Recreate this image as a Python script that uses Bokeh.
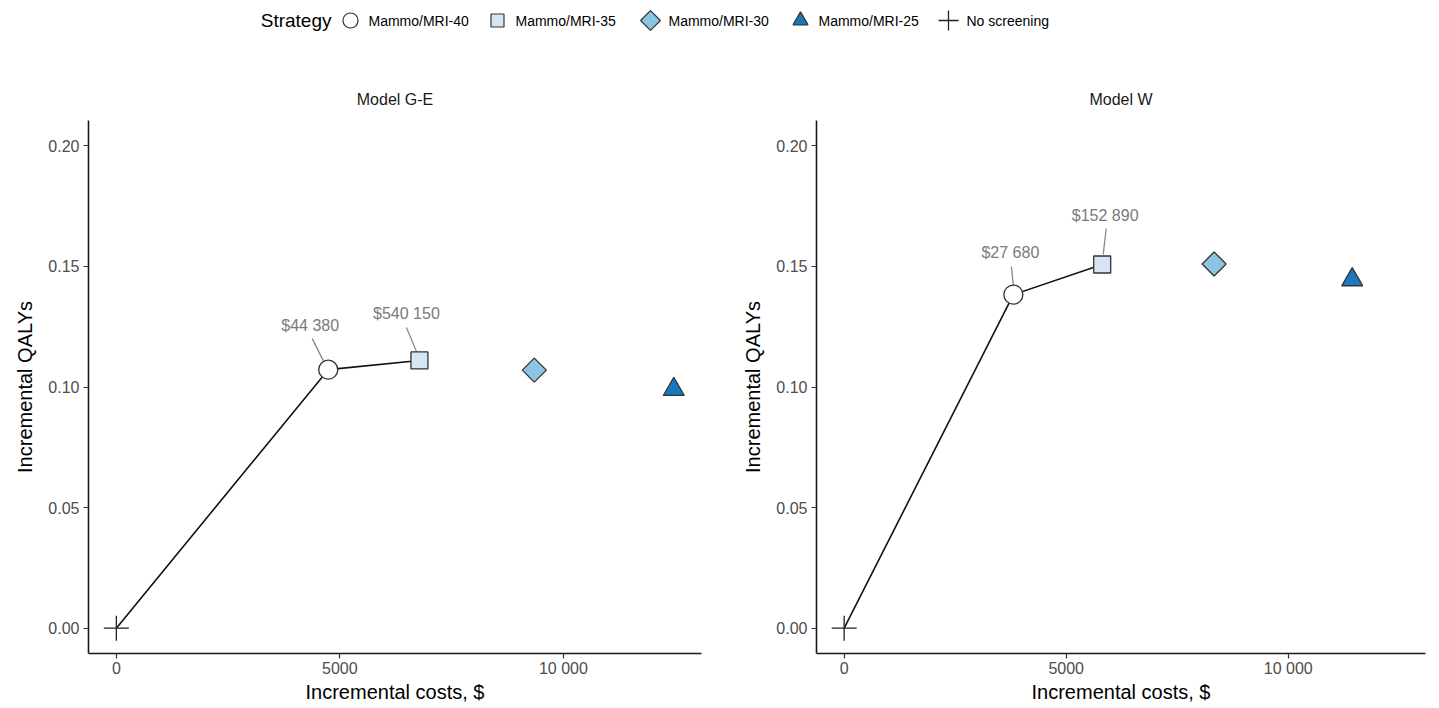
import math
from bokeh.plotting import figure
from bokeh.models import Range1d, FixedTicker, NumeralTickFormatter, Label
from bokeh.layouts import column, row
from bokeh.core.properties import value
from bokeh.embed import file_html
from bokeh.resources import INLINE

# ---------------- data ----------------
strategies = ["Mammo/MRI-40", "Mammo/MRI-35", "Mammo/MRI-30", "Mammo/MRI-25", "No screening"]

ge_cost = [4740, 6780, 9350, 12470, 0]
ge_qaly = [0.1072, 0.1110, 0.1070, 0.0990, 0.0]

w_cost = [3810, 5810, 8330, 11440, 0]
w_qaly = [0.1383, 0.1508, 0.1510, 0.1445, 0.0]

# efficient frontier (indices into the strategy list, ordered by cost)
ge_frontier = [4, 0, 1]
w_frontier = [4, 0, 1]

# ICER labels (strategy index -> text)
ge_icer_idx = [0, 1]
ge_icer_txt = ["$44 380", "$540 150"]
w_icer_idx = [0, 1]
w_icer_txt = ["$27 680", "$152 890"]

x_ticks = [0, 5000, 10000]
x_tick_labels = ["0", "5000", "10 000"]
y_ticks = [0.0, 0.05, 0.10, 0.15, 0.20]

# ---------------- style ----------------
FONT = "Liberation Sans"
markers = ["circle", "square", "square", "triangle", "cross"]
angles = [0, 0, math.pi / 4, 0, 0]
sizes = [19, 17, 17, 21, 25]
fills = ["white", "#d5e5f4", "#8cc5e4", "#1a78bd", None]
lines = ["#333333", "#333333", "#333333", "#333333", "#333333"]

leg_sizes = [15, 13, 14, 15, 20]

XR = (-623, 13090)
YR = (-0.0105, 0.2105)

# label offsets in screen pixels (dx right, dy down): label centre, leader start, leader end
ge_lab_off = [(-18, -44, -5, -9, -16, -31), (-13, -47, -3, -9, -13, -33)]
w_lab_off = [(-3, -42, 0, -9, -2, -28), (3, -49, 1, -10, 4, -36)]


def make_panel(title, cost, qaly, frontier, icer_idx, icer_txt, offs,
               left, frame_w, right):
    frame_h = 533
    p = figure(width=left + frame_w + right, height=65 + frame_h + 55,
               frame_width=frame_w, frame_height=frame_h,
               min_border_left=left, min_border_right=right,
               min_border_top=65, min_border_bottom=55,
               x_range=Range1d(*XR), y_range=Range1d(*YR),
               toolbar_location=None, output_backend="svg",
               title=title)
    p.title.align = "center"
    p.title.text_font = FONT
    p.title.text_font_size = "16px"
    p.title.text_font_style = "normal"
    p.title.text_color = "#1a1a1a"
    p.title.standoff = 25
    p.outline_line_color = None
    p.grid.visible = False
    p.background_fill_color = "white"
    p.border_fill_color = "white"

    for ax in (p.xaxis[0], p.yaxis[0]):
        ax.axis_line_color = "#1a1a1a"
        ax.axis_line_width = 1.6
        ax.major_tick_line_color = "#333333"
        ax.major_tick_line_width = 1.2
        ax.major_tick_out = 5
        ax.major_tick_in = 0
        ax.minor_tick_line_color = None
        ax.major_label_text_font = FONT
        ax.major_label_text_font_size = "16px"
        ax.major_label_text_color = "#4d4d4d"
        ax.axis_label_text_font = FONT
        ax.axis_label_text_font_size = "20px"
        ax.axis_label_text_font_style = "normal"
        ax.axis_label_text_color = "#000000"

    p.xaxis.ticker = FixedTicker(ticks=x_ticks)
    p.xaxis.major_label_overrides = {t: l for t, l in zip(x_ticks, x_tick_labels)}
    p.xaxis.axis_label = "Incremental costs, $"
    p.xaxis.major_label_standoff = 1
    p.xaxis.axis_label_standoff = 1
    p.yaxis.ticker = FixedTicker(ticks=y_ticks)
    p.yaxis.formatter = NumeralTickFormatter(format="0.00")
    p.yaxis.axis_label = "Incremental QALYs"
    p.yaxis.major_label_standoff = 4
    p.yaxis.axis_label_standoff = 9

    px = frame_w / (XR[1] - XR[0])
    py = frame_h / (YR[1] - YR[0])

    # frontier line
    p.line([cost[i] for i in frontier], [qaly[i] for i in frontier],
           line_color="#111111", line_width=1.6)

    # leader lines + labels
    for k, i in enumerate(icer_idx):
        dx, dy, sx0, sy0, sx1, sy1 = offs[k]
        p.segment(x0=[cost[i] + sx0 / px], y0=[qaly[i] - sy0 / py],
                  x1=[cost[i] + sx1 / px], y1=[qaly[i] - sy1 / py],
                  line_color="#8a8a8a", line_width=1.3)
        p.text(x=[cost[i] + dx / px], y=[qaly[i] - dy / py], text=[icer_txt[k]],
               text_font=value(FONT), text_font_size="16px", text_color="#7a7a7a",
               text_align="center", text_baseline="middle",
               background_fill_color="white", background_fill_alpha=0.6)

    # points
    for i in range(len(cost)):
        if markers[i] == "cross":
            p.scatter([cost[i]], [qaly[i]], marker="cross", size=sizes[i],
                      line_color="#222222", line_width=1.3)
        else:
            p.scatter([cost[i]], [qaly[i]], marker=markers[i], size=sizes[i],
                      angle=angles[i], fill_color=fills[i],
                      line_color=lines[i], line_width=1.3)
    return p


p1 = make_panel("Model G-E", ge_cost, ge_qaly, ge_frontier, ge_icer_idx, ge_icer_txt,
                ge_lab_off, 88, 613, 27)
p2 = make_panel("Model W", w_cost, w_qaly, w_frontier, w_icer_idx, w_icer_txt,
                w_lab_off, 88, 609, 14)

# ---------------- legend strip ----------------
leg = figure(width=1439, height=55, x_range=Range1d(0, 1439), y_range=Range1d(0, 55),
             x_axis_location=None, y_axis_location=None, min_border=0,
             toolbar_location=None, output_backend="svg")
leg.outline_line_color = None
leg.grid.visible = False

leg_glyph_x = [350, 497, 650, 800, 948]
leg_y = 35
leg.add_layout(Label(x=331, y=leg_y, text="Strategy", text_align="right",
                     text_baseline="middle", text_font=FONT, text_font_size="19px",
                     text_color="#000000"))
for i, name in enumerate(strategies):
    if markers[i] == "cross":
        leg.scatter([leg_glyph_x[i]], [leg_y], marker="cross", size=leg_sizes[i],
                    line_color="#222222", line_width=1.3)
    else:
        leg.scatter([leg_glyph_x[i]], [leg_y], marker=markers[i], size=leg_sizes[i],
                    angle=angles[i], fill_color=fills[i], line_color=lines[i], line_width=1.2)
    leg.text([leg_glyph_x[i] + 18], [leg_y], text=[name], text_font=value(FONT),
             text_font_size="14px", text_color="#000000", text_baseline="middle",
             text_align="left")

layout = column(leg, row(p1, p2, spacing=0), spacing=0)

open("out.html", "w").write(file_html(layout, INLINE))
